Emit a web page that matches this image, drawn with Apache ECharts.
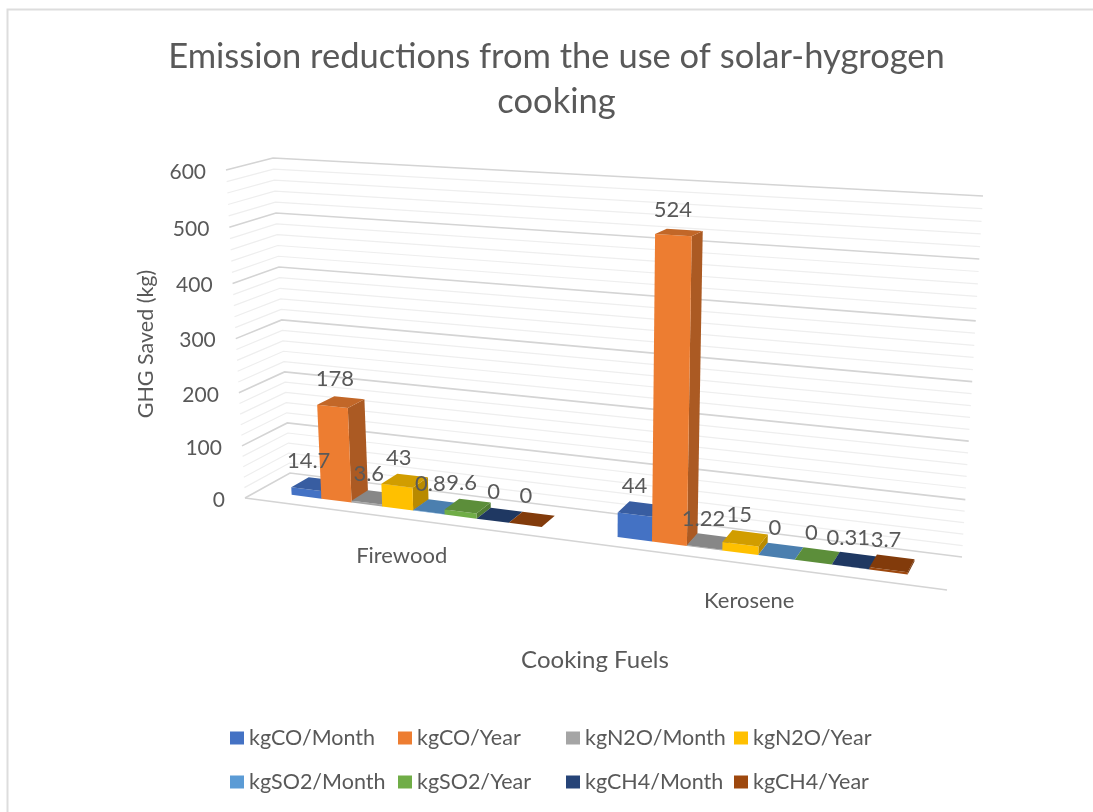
<!DOCTYPE html>
<html>
<head>
<meta charset="utf-8">
<style>
  html, body { margin: 0; padding: 0; background: #fff; }
  #chart { width: 1093px; height: 812px; }
</style>
<script src="https://cdn.jsdelivr.net/npm/echarts@6/dist/echarts.min.js"></script>
</head>
<body>
<div id="chart"></div>
<script>
var categories = ["Firewood", "Kerosene"];
var seriesNames = ["kgCO/Month", "kgCO/Year", "kgN2O/Month", "kgN2O/Year", "kgSO2/Month", "kgSO2/Year", "kgCH4/Month", "kgCH4/Year"];
var kgCOMonth = [14.7, 44];
var kgCOYear = [178, 524];
var kgN2OMonth = [3.6, 1.22];
var kgN2OYear = [43, 15];
var kgSO2Month = [0.8, 0];
var kgSO2Year = [9.6, 0];
var kgCH4Month = [0, 0.31];
var kgCH4Year = [0, 3.7];
var seriesValues = [kgCOMonth, kgCOYear, kgN2OMonth, kgN2OYear, kgSO2Month, kgSO2Year, kgCH4Month, kgCH4Year];
var colors = ["#4472C4", "#ED7D31", "#A5A5A5", "#FFC000", "#5B9BD5", "#70AD47", "#264478", "#9E480E"];
var yTicks = [0, 100, 200, 300, 400, 500, 600];
var yMinorStep = 20;

var FONT = "Lato";
var TEXT = "#595959";

// the 3d box of the plot, as it lands on the page
var floorNearL = [245, 498], floorBackL = [290, 473], floorNearR = [947, 590], floorBackR = [962, 557];
var topNearL = [226, 170], topBackL = [273, 158], topNearR = [967, 205], topBackR = [983, 196];
var xPersp = 1.16, yPersp = 1.058;
var gapBars = 2.26;
var depthFront = 0.30, depthBack = 0.70;

function mix(a, b, f) {
  return [a[0] + (b[0] - a[0]) * f, a[1] + (b[1] - a[1]) * f];
}

function warp(v, k) {
  return v / (v + k * (1 - v));
}

// flat pixel from the hidden cartesian axes -> point on the tilted box
function project(sys, px, py, depth) {
  var u = warp((px - sys.x) / sys.width, xPersp);
  var v = warp((sys.y + sys.height - py) / sys.height, yPersp);
  var low = mix(mix(floorNearL, floorNearR, u), mix(floorBackL, floorBackR, u), depth);
  var high = mix(mix(topNearL, topNearR, u), mix(topBackL, topBackR, u), depth);
  return mix(low, high, v);
}

function shade(hex, f) {
  var n = parseInt(hex.slice(1), 16);
  var r = Math.round((n >> 16) * f), g = Math.round(((n >> 8) & 255) * f), b = Math.round((n & 255) * f);
  return "rgb(" + r + "," + g + "," + b + ")";
}

function poly(points, fill) {
  return { type: "polygon", shape: { points: points }, style: { fill: fill } };
}

function label(text, pos, size, z) {
  return {
    type: "text", x: pos[0], y: pos[1], z2: z || 0,
    style: { text: text, fill: TEXT, fontFamily: FONT, fontSize: size, align: "center", verticalAlign: "middle" }
  };
}

function renderBar(seriesIndex, params, api) {
  var sys = params.coordSys;
  var center = api.coord([api.value(0), 0]);
  var band = api.size([1, 0])[0];
  var barW = band / (seriesNames.length + gapBars);
  var left = center[0] + (seriesIndex - seriesNames.length / 2) * barW;
  var right = left + barW;
  var base = center[1];
  var top = api.coord([api.value(0), api.value(1)])[1];
  var color = colors[seriesIndex];

  var fl = project(sys, left, top, depthFront), fr = project(sys, right, top, depthFront);
  var bl = project(sys, left, top, depthBack), br = project(sys, right, top, depthBack);
  var flb = project(sys, left, base, depthFront), frb = project(sys, right, base, depthFront);
  var brb = project(sys, right, base, depthBack);

  var children = [];
  if (top < base) {
    children.push(poly([frb, brb, br, fr], shade(color, 0.72)));
    children.push(poly([flb, frb, fr, fl], color));
  }
  children.push(poly([fl, fr, br, bl], shade(color, 0.82)));

  var mid = [(fl[0] + br[0]) / 2 - 6, (fl[1] + br[1]) / 2 - 23];
  children.push(label(String(api.value(1)), mid, 22, 100));
  return { type: "group", children: children };
}

function renderGrid(params, api) {
  var sys = params.coordSys;
  var value = api.value(0);
  var y = api.coord([0, value])[1];
  var x0 = sys.x, x1 = sys.x + sys.width;
  var major = yTicks.indexOf(value) >= 0;
  var stroke = major ? "#d4d4d4" : "#eeeeee";
  var near = project(sys, x0, y, 0), back = project(sys, x0, y, 1), end = project(sys, x1, y, 1);
  var children = [{
    type: "polyline",
    shape: { points: [near, back, end] },
    style: { stroke: stroke, lineWidth: major ? 1.6 : 1.2, fill: null }
  }];
  if (major) {
    children.push({
      type: "text", x: near[0] - 20, y: near[1] + 2,
      style: { text: String(value), fill: TEXT, fontFamily: FONT, fontSize: 21, align: "right", verticalAlign: "middle" }
    });
  }
  if (value === 0) {
    children.push({
      type: "line",
      shape: { x1: near[0], y1: near[1], x2: project(sys, x1, y, 0)[0], y2: project(sys, x1, y, 0)[1] },
      style: { stroke: "#d4d4d4", lineWidth: 1.6 }
    });
  }
  return { type: "group", children: children };
}

function renderCategory(params, api) {
  var idx = api.value(0);
  var c = api.coord([idx, 0]);
  var p = project(params.coordSys, c[0], c[1], 0);
  return label(categories[idx], [p[0] - 2 * idx, p[1] + 37], 22);
}

var gridValues = [];
for (var v = yTicks[0]; v <= yTicks[yTicks.length - 1]; v += yMinorStep) {
  gridValues.push(v);
}

var series = [{
  type: "custom", name: "walls", silent: true, z: 1,
  data: gridValues.map(function (g) { return [g]; }),
  encode: { y: 0 },
  renderItem: renderGrid
}, {
  type: "custom", name: "categories", silent: true, z: 1,
  data: categories.map(function (c, i) { return [i]; }),
  encode: { x: 0 },
  renderItem: renderCategory
}];

seriesNames.forEach(function (name, s) {
  series.push({
    type: "custom",
    name: name,
    z: 2,
    itemStyle: { color: colors[s] },
    data: seriesValues[s].map(function (val, i) { return [i, val]; }),
    encode: { x: 0, y: 1 },
    renderItem: function (params, api) { return renderBar(s, params, api); }
  });
});

var legendX = [225, 393, 561, 729];
var legendY = [722, 766];
var legends = seriesNames.map(function (name, s) {
  return {
    left: legendX[s % 4], top: legendY[Math.floor(s / 4)],
    data: [{ name: name, icon: "rect" }],
    itemWidth: 14, itemHeight: 13, itemGap: 6, selectedMode: false,
    textStyle: { color: TEXT, fontFamily: FONT, fontSize: 21.5 }
  };
});

var chart = echarts.init(document.getElementById("chart"), null, { renderer: "canvas" });
chart.setOption({
  animation: false,
  backgroundColor: "#ffffff",
  color: colors,
  title: {
    text: "Emission reductions from the use of solar-hygrogen\ncooking",
    left: 551.5, top: 29, textAlign: "center",
    textStyle: { color: TEXT, fontFamily: FONT, fontSize: 34.5, fontWeight: "normal", lineHeight: 45 }
  },
  legend: legends,
  grid: { left: 100, top: 100, width: 800, height: 500 },
  xAxis: { type: "category", data: categories, show: false },
  yAxis: { type: "value", min: 0, max: 600, interval: 100, show: false },
  graphic: [
    { type: "polyline", shape: { points: [[7.5, 812], [7.5, 9.5], [1093, 9.5]] }, style: { stroke: "#dddddd", lineWidth: 2, fill: null }, silent: true },
    { type: "text", x: 146, y: 344, rotation: Math.PI / 2, style: { text: "GHG Saved (kg)", fill: TEXT, fontFamily: FONT, fontSize: 21.5, align: "center", verticalAlign: "middle" }, silent: true },
    { type: "text", x: 595, y: 660, style: { text: "Cooking Fuels", fill: TEXT, fontFamily: FONT, fontSize: 24, align: "center", verticalAlign: "middle" }, silent: true }
  ],
  series: series
});
</script>
</body>
</html>
